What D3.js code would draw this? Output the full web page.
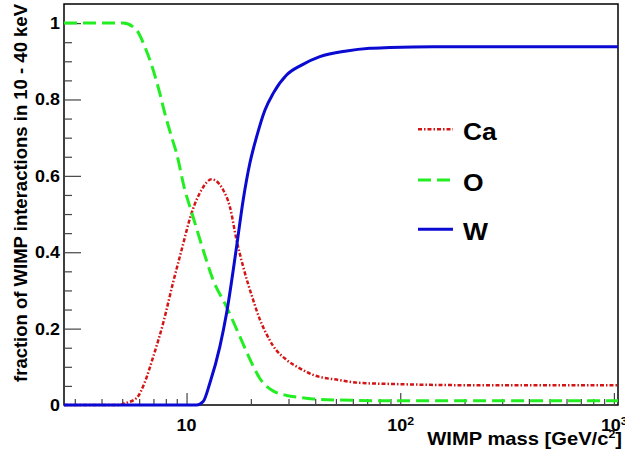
<!DOCTYPE html>
<html>
<head>
<meta charset="utf-8">
<script src="https://cdn.jsdelivr.net/npm/d3@7"></script>
<style>
  body { margin: 0; background: #fff; }
  text { font-family: "Liberation Sans", Arial, sans-serif; font-weight: bold; fill: #000; }
</style>
</head>
<body>
<div id="my_dataviz"></div>
<script>
// ---- data ----
var seriesNames = ["Ca", "O", "W"];

// Ca
var massCa = [2.67, 4.88, 5.05, 5.83, 6.38, 6.98, 7.77, 8.66, 9.48, 10.55, 11.75, 13.09, 14.84, 15.95, 17.14, 18.41, 20.5, 22.0, 23.7, 25.4, 29.4, 33.9, 39.1, 52.2, 64.7, 92.7, 190, 1045];
var fracCa = [0, 0, 0.003, 0.018, 0.06, 0.126, 0.214, 0.322, 0.406, 0.502, 0.563, 0.591, 0.563, 0.519, 0.432, 0.362, 0.275, 0.225, 0.185, 0.155, 0.118, 0.096, 0.079, 0.065, 0.058, 0.055, 0.052, 0.052];

// O
var massO = [2.67, 5.05, 5.83, 6.38, 6.98, 7.5, 7.91, 8.51, 8.98, 9.82, 10.55, 11.96, 13.32, 15.39, 17.77, 20.5, 22.0, 25.4, 29.4, 33.9, 39.1, 52.2, 92.7, 200, 1045];
var fracO = [1.0, 1.0, 0.982, 0.938, 0.877, 0.816, 0.764, 0.702, 0.659, 0.563, 0.506, 0.406, 0.327, 0.257, 0.179, 0.102, 0.07, 0.037, 0.025, 0.02, 0.016, 0.013, 0.011, 0.011, 0.011];

// W
var massW = [2.67, 11.14, 11.96, 12.85, 14.32, 15.39, 17.14, 18.41, 19.78, 21.27, 23.26, 25.43, 29.38, 34.54, 42.06, 56.1, 72.1, 89.5, 142.6, 1045];
var fracW = [0, 0, 0.009, 0.057, 0.153, 0.24, 0.414, 0.537, 0.633, 0.702, 0.772, 0.816, 0.864, 0.89, 0.912, 0.927, 0.934, 0.936, 0.938, 0.938];

// ticks
var xMajorTicks = [10, 100, 1000];
var xTickBase = ["10", "10", "10"];
var xTickExp = ["", "2", "3"];
var xMinorTicks = [3, 4, 5, 6, 7, 8, 9, 20, 30, 40, 50, 60, 70, 80, 90, 200, 300, 400, 500, 600, 700, 800, 900];
var yMajorTicks = [0, 0.2, 0.4, 0.6, 0.8, 1];
var yTickLabels = ["0", "0.2", "0.4", "0.6", "0.8", "1"];
var yMinorTicks = [0.05, 0.1, 0.15, 0.25, 0.3, 0.35, 0.45, 0.5, 0.55, 0.65, 0.7, 0.75, 0.85, 0.9, 0.95];

// set the dimensions and margins of the graph
var margin = { top: 4, right: 7, bottom: 51, left: 64 },
    width = 625 - margin.left - margin.right,
    height = 456 - margin.top - margin.bottom;

var stretch = "scale(1.12,1)";

var svg = d3.select("#my_dataviz")
    .append("svg")
    .attr("width", width + margin.left + margin.right)
    .attr("height", height + margin.top + margin.bottom)
    .append("g")
    .attr("transform", "translate(" + margin.left + "," + margin.top + ")");

var x = d3.scaleLog().domain([2.67, 1045]).range([0, width]);
var y = d3.scaleLinear().domain([0, 1.05]).range([height, 0]);

/*********************
 * FRAME + TICKS
*********************/
svg.append("rect")
    .attr("x", 0).attr("y", 0)
    .attr("width", width).attr("height", height)
    .style("fill", "none")
    .style("stroke", "#000")
    .style("stroke-width", 1.5);

function tickAxis(axis, vals, size) {
    var g = svg.append("g")
        .call(axis.tickValues(vals).tickSizeInner(size).tickSizeOuter(0).tickFormat(""));
    g.select(".domain").remove();
    g.selectAll("line").style("stroke", "#444").style("stroke-width", 1.2);
    return g;
}

tickAxis(d3.axisBottom(x), xMinorTicks, -6).attr("transform", "translate(0," + height + ")");
tickAxis(d3.axisBottom(x), xMajorTicks, -12).attr("transform", "translate(0," + height + ")");
tickAxis(d3.axisLeft(y), yMinorTicks, -8);
tickAxis(d3.axisLeft(y), yMajorTicks, -17);

// x tick labels (10, 10^2, 10^3)
xMajorTicks.forEach(function (v, i) {
    var t = svg.append("text")
        .attr("transform", "translate(" + (x(v) - (xTickExp[i] ? 13 : 0)) + "," + (height + 26) + ") " + stretch)
        .attr("text-anchor", xTickExp[i] ? "start" : "middle")
        .style("font-size", "16px");
    t.append("tspan").text(xTickBase[i]);
    if (xTickExp[i]) {
        t.append("tspan").attr("dy", -6).style("font-size", "11px").text(xTickExp[i]);
    }
});

// y tick labels
svg.selectAll("ylab")
    .data(yMajorTicks)
    .enter()
    .append("text")
    .attr("transform", function (d) { return "translate(-4," + (y(d) + 6) + ") " + stretch; })
    .attr("text-anchor", "end")
    .style("font-size", "16px")
    .text(function (d, i) { return yTickLabels[i]; });

// axis titles
var xt = svg.append("text")
    .attr("transform", "translate(" + (width + 4) + "," + (height + 40) + ") " + stretch)
    .attr("text-anchor", "end")
    .style("font-size", "18px");
xt.append("tspan").text("WIMP mass [GeV/c");
xt.append("tspan").attr("dy", -7).style("font-size", "11px").text("2");
xt.append("tspan").attr("dy", 7).text("]");

svg.append("text")
    .attr("transform", "translate(" + (27 - margin.left) + "," + 189 + ") rotate(-90)")
    .attr("text-anchor", "middle")
    .style("font-size", "18.5px")
    .text("fraction of WIMP interactions in 10 - 40 keV");

/*********************
 * CURVES
*********************/
var styles = {
    Ca: { color: "#d41515", dash: "4,2,1.5,2", width: 2.5 },
    O: { color: "#22ee22", dash: "13,6", width: 3 },
    W: { color: "#0a0ad2", dash: null, width: 3 }
};
var seriesData = {
    Ca: d3.zip(massCa, fracCa),
    O: d3.zip(massO, fracO),
    W: d3.zip(massW, fracW)
};

var line = d3.line()
    .x(function (d) { return x(d[0]); })
    .y(function (d) { return y(d[1]); })
    .curve(d3.curveMonotoneX);

seriesNames.forEach(function (k) {
    svg.append("path")
        .datum(seriesData[k])
        .attr("d", line)
        .style("fill", "none")
        .style("stroke", styles[k].color)
        .style("stroke-width", styles[k].width)
        .style("stroke-dasharray", styles[k].dash);
});

/*********************
 * LEGEND
*********************/
var legendY = [125.3, 176, 225.3];
seriesNames.forEach(function (k, i) {
    svg.append("line")
        .attr("x1", 354).attr("x2", 389)
        .attr("y1", legendY[i]).attr("y2", legendY[i])
        .style("stroke", styles[k].color)
        .style("stroke-width", styles[k].width)
        .style("stroke-dasharray", styles[k].dash);
    svg.append("text")
        .attr("transform", "translate(399," + (legendY[i] + 11) + ") scale(1.15,1)")
        .style("font-size", "23px")
        .text(k);
});
</script>
</body>
</html>
